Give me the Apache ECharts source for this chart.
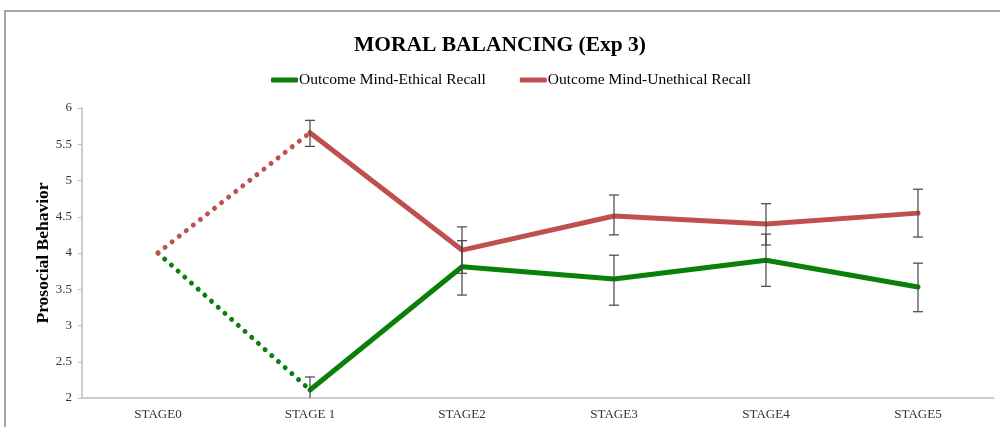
<!DOCTYPE html>
<html lang="en">

<head>
    <meta charset="UTF-8">
    <title>Moral Balancing</title>
    <script src="https://cdn.jsdelivr.net/npm/echarts@6/dist/echarts.min.js"></script>
    <style>
        html, body { margin: 0; padding: 0; overflow: hidden; background: #fff; }
        #frame { position: absolute; left: 4px; top: 10px; width: 1100px; height: 600px; border: 2px solid #a6a6a6; }
        #myCharts { position: absolute; left: 0; top: 0; width: 1000px; height: 427px; }
    </style>
</head>

<body>
    <div id="frame"></div>
    <div id="myCharts"></div>

    <script type="text/javascript">
        var stages = ['STAGE0', 'STAGE 1', 'STAGE2', 'STAGE3', 'STAGE4', 'STAGE5']
        var yTicks = [2, 2.5, 3, 3.5, 4, 4.5, 5, 5.5, 6]

        // means
        var ethicalMean = [4, 2.11, 3.81, 3.64, 3.90, 3.53]
        var unethicalMean = [4, 5.66, 4.04, 4.51, 4.40, 4.55]
        // error bars (low / high), none at STAGE0
        var ethicalLow = [null, 1.93, 3.42, 3.28, 3.54, 3.19]
        var ethicalHigh = [null, 2.29, 4.17, 3.97, 4.26, 3.86]
        var unethicalLow = [null, 5.47, 3.72, 4.25, 4.11, 4.22]
        var unethicalHigh = [null, 5.83, 4.36, 4.80, 4.68, 4.88]

        var green = '#0a800a'
        var red = '#c0504d'
        var font = 'Liberation Serif'

        function dotted(arr) { return arr.map(function (v, i) { return i <= 1 ? v : '-' }) }
        function solid(arr) { return arr.map(function (v, i) { return i >= 1 ? v : '-' }) }
        function errData(lo, hi) {
            var out = []
            lo.forEach(function (v, i) { if (v != null) out.push([i, v, hi[i]]) })
            return out
        }

        function errSeries(lo, hi) {
            return {
                type: 'custom',
                z: 5,
                clip: true,
                silent: true,
                renderItem: function (params, api) {
                    var x = api.value(0)
                    var p1 = api.coord([x, api.value(1)])
                    var p2 = api.coord([x, api.value(2)])
                    var w = 5
                    var st = { stroke: '#444', lineWidth: 1.2 }
                    return {
                        type: 'group',
                        children: [
                            { type: 'line', shape: { x1: p1[0], y1: p1[1], x2: p2[0], y2: p2[1] }, style: st },
                            { type: 'line', shape: { x1: p1[0] - w, y1: p1[1], x2: p1[0] + w, y2: p1[1] }, style: st },
                            { type: 'line', shape: { x1: p2[0] - w, y1: p2[1], x2: p2[0] + w, y2: p2[1] }, style: st }
                        ]
                    }
                },
                data: errData(lo, hi)
            }
        }

        function lineSeries(name, data, color, isDotted) {
            return {
                name: name,
                type: 'line',
                symbol: 'none',
                z: 3,
                color: color,
                lineStyle: {
                    color: color,
                    width: 5,
                    type: isDotted ? [0.01, 9] : 'solid',
                    cap: 'round'
                },
                data: data
            }
        }

        var myChart = echarts.init(document.getElementById('myCharts'))
        var option = {
            animation: false,
            title: {
                text: 'MORAL BALANCING (Exp 3)',
                left: 'center',
                top: 29,
                textStyle: { fontFamily: font, fontWeight: 'bold', fontSize: 21.5, color: '#000' }
            },
            legend: {
                data: ['Outcome Mind-Ethical Recall', 'Outcome Mind-Unethical Recall'],
                top: 67,
                left: 266,
                icon: 'roundRect',
                itemWidth: 27,
                itemHeight: 5,
                itemGap: 34,
                textStyle: { fontFamily: font, fontSize: 15.5, color: '#000', padding: [0, 0, 0, -4] }
            },
            grid: { left: 82, right: 6, top: 108, bottom: 29 },
            xAxis: {
                type: 'category',
                data: stages,
                boundaryGap: true,
                axisLine: { lineStyle: { color: '#bdbdbd', width: 1.5 } },
                axisTick: { show: false },
                axisLabel: { fontFamily: font, fontSize: 13, color: '#333', margin: 10 }
            },
            yAxis: {
                type: 'value',
                min: yTicks[0],
                max: yTicks[yTicks.length - 1],
                interval: 0.5,
                name: 'Prosocial Behavior',
                nameLocation: 'middle',
                nameGap: 30,
                nameMoveOverlap: false,
                nameTextStyle: { fontFamily: font, fontWeight: 'bold', fontSize: 17.5, color: '#000' },
                splitLine: { show: false },
                axisLine: { show: true, lineStyle: { color: '#bdbdbd', width: 1.5 } },
                axisTick: { show: true, length: 4, lineStyle: { color: '#bdbdbd' } },
                axisLabel: { fontFamily: font, fontSize: 13, color: '#333', margin: 10 }
            },
            series: [
                lineSeries('Outcome Mind-Ethical Recall', solid(ethicalMean), green, false),
                lineSeries('Outcome Mind-Unethical Recall', solid(unethicalMean), red, false),
                lineSeries('ethical-dotted', dotted(ethicalMean), green, true),
                lineSeries('unethical-dotted', dotted(unethicalMean), red, true),
                errSeries(ethicalLow, ethicalHigh),
                errSeries(unethicalLow, unethicalHigh)
            ]
        }
        myChart.setOption(option, true)
    </script>
</body>

</html>
